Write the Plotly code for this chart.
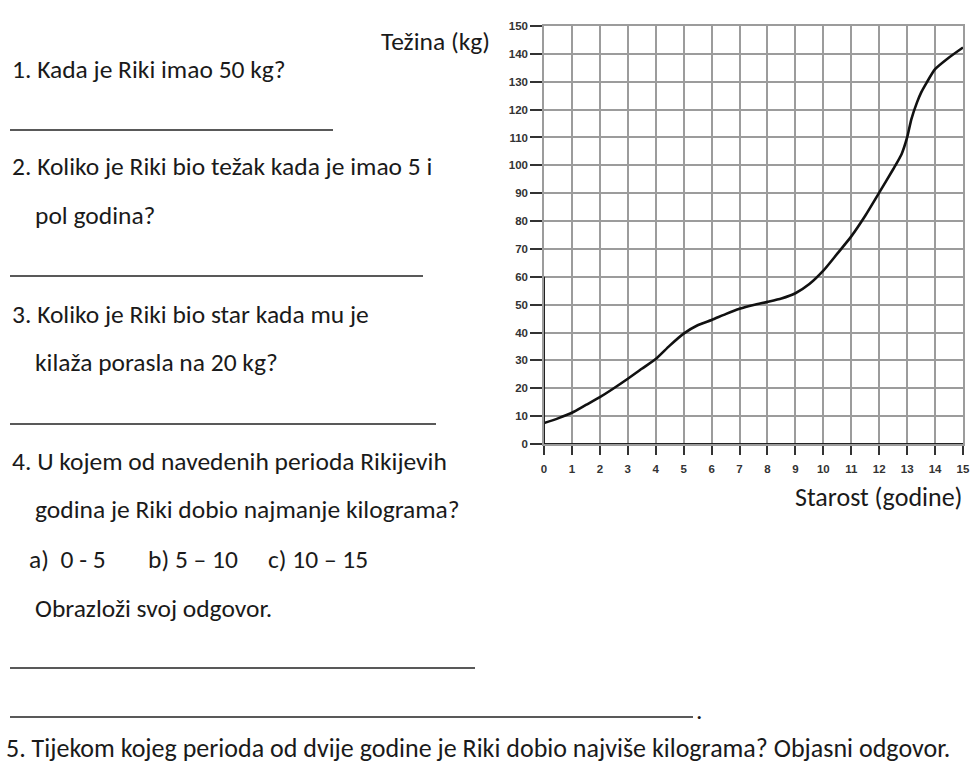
import plotly.graph_objects as go

# Data
age = [0, 0.5, 1, 1.5, 2, 2.5, 3, 3.5, 4, 4.5, 5, 5.5, 6, 6.5, 7, 7.5, 8, 8.5, 9, 9.5,
       10, 10.5, 11, 11.5, 12, 12.5, 12.8, 13, 13.15, 13.35, 13.5, 13.7, 14, 14.5, 15]
weight = [7.5, 9.2, 11.2, 14.0, 16.8, 20.0, 23.4, 27.0, 30.5, 35.3, 39.6, 42.6, 44.5, 46.6,
          48.5, 49.9, 51.0, 52.2, 54.1, 57.4, 62.2, 68.3, 74.5, 81.9, 90.2, 98.6, 104.0,
          110.0, 116.5, 122.5, 126.1, 129.7, 134.5, 138.7, 142.3]
x_ticks = list(range(0, 16))
y_ticks = list(range(0, 151, 10))

y_title = "Težina (kg)"
x_title = "Starost (godine)"
questions = [
    ("1. Kada je Riki imao 50 kg?", 10, 69),
    ("2. Koliko je Riki bio težak kada je imao 5 i", 10, 166),
    ("pol godina?", 33, 215),
    ("3. Koliko je Riki bio star kada mu je", 10, 314),
    ("kilaža porasla na 20 kg?", 33, 362),
    ("4. U kojem od navedenih perioda Rikijevih", 10, 461),
    ("godina je Riki dobio najmanje kilograma?", 33, 509),
    ("a)&nbsp;&nbsp;0 - 5", 27, 559),
    ("b) 5 – 10", 146, 559),
    ("c) 10 – 15", 266, 559),
    ("Obrazloži svoj odgovor.", 33, 608),
]
last_question = "5. Tijekom kojeg perioda od dvije godine je Riki dobio najviše kilograma? Objasni odgovor."
answer_lines = [(10, 333, 130), (10, 423, 276), (10, 436, 424), (10, 475, 668), (10, 693, 717)]

W, H = 971, 767
L, R, T, B = 544, 963, 26, 444  # plot area in pixels


def px(x):
    return (x - L) / (R - L)


def py(y):
    return (B - y) / (B - T)


TEXT_FONT = dict(family="Carlito, Calibri, Lato, sans-serif", size=25.5, color="#1a1a1a")
TICK_FONT = dict(family="Arial, 'Liberation Sans', sans-serif", size=11.5, color="#333333",
                 weight="bold")
GRID = "#9c9c9c"

fig = go.Figure()
fig.add_trace(go.Scatter(x=age, y=weight, mode="lines",
                         line=dict(color="#111111", width=2.6, shape="spline", smoothing=0.6),
                         hoverinfo="x+y", showlegend=False))

fig.update_xaxes(range=[0, 15], tickvals=x_ticks, ticks="outside", ticklen=9, tickwidth=1.5,
                 tickcolor="#333333", showgrid=True, gridcolor=GRID, gridwidth=1.5,
                 showline=True, linecolor=GRID, linewidth=1.5, mirror=True, zeroline=False,
                 tickfont=TICK_FONT, ticklabelstandoff=4, fixedrange=True)
fig.update_yaxes(range=[0, 150], tickvals=y_ticks, ticks="outside", ticklen=12, tickwidth=1.5,
                 tickcolor="#333333", showgrid=True, gridcolor=GRID, gridwidth=1.5,
                 showline=True, linecolor=GRID, linewidth=1.5, mirror=True, zeroline=False,
                 tickfont=TICK_FONT, fixedrange=True)

# Dark axis segments (bottom axis and lower part of the left axis)
fig.add_shape(type="line", xref="x", yref="y", x0=0, x1=15, y0=0, y1=0,
              line=dict(color="#222222", width=2))
fig.add_shape(type="line", xref="x", yref="y", x0=0, x1=0, y0=0, y1=60,
              line=dict(color="#222222", width=2))

annotations = []
for txt, x, y in questions:
    annotations.append(dict(text=txt, x=px(x), y=py(y), xref="paper", yref="paper",
                            xanchor="left", yanchor="middle", showarrow=False, font=TEXT_FONT))
annotations.append(dict(text=y_title, x=px(492), y=py(42), xref="paper", yref="paper",
                        xanchor="right", yanchor="middle", showarrow=False, font=TEXT_FONT))
annotations.append(dict(text=x_title, x=px(965), y=py(497), xref="paper", yref="paper",
                        xanchor="right", yanchor="middle", showarrow=False,
                        font=dict(TEXT_FONT, size=26)))
annotations.append(dict(text=last_question, x=px(4), y=py(748), xref="paper", yref="paper",
                        xanchor="left", yanchor="middle", showarrow=False,
                        font=dict(TEXT_FONT, size=26)))
annotations.append(dict(text=".", x=px(694), y=py(710), xref="paper", yref="paper",
                        xanchor="left", yanchor="middle", showarrow=False, font=TEXT_FONT))

for x0, x1, y in answer_lines:
    fig.add_shape(type="line", xref="paper", yref="paper", x0=px(x0), x1=px(x1), y0=py(y), y1=py(y),
                  line=dict(color="#222222", width=1.5))

fig.update_layout(width=W, height=H, autosize=False,
                  margin=dict(l=L, r=W - R, t=T, b=H - B, autoexpand=False),
                  plot_bgcolor="white", paper_bgcolor="white", annotations=annotations,
                  showlegend=False)

fig.write_html("out.html", config={"displayModeBar": False, "responsive": False},
               post_script="document.body.style.margin='0px';"
                           "document.body.style.overflow='hidden';"
                           "document.documentElement.style.overflow='hidden';")
